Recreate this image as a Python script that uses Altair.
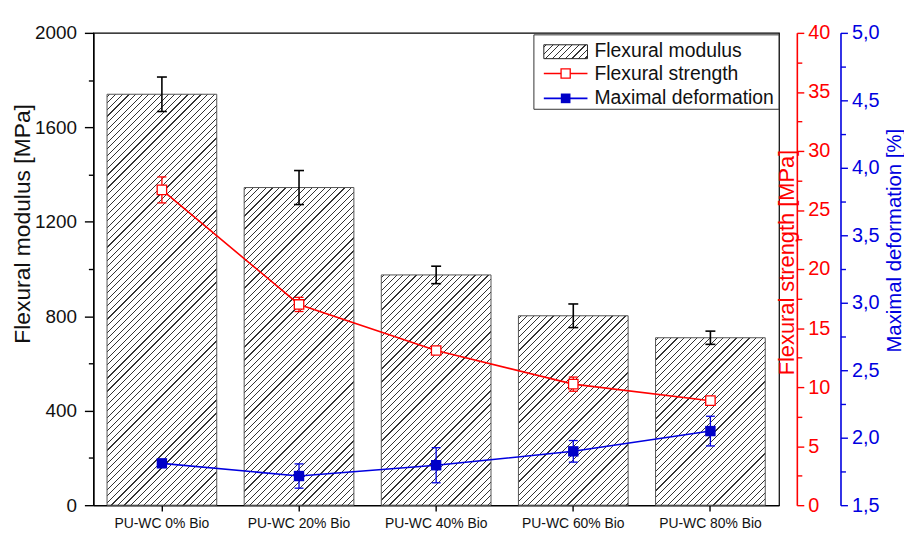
import altair as alt
import pandas as pd

categories = ["PU-WC 0% Bio", "PU-WC 20% Bio", "PU-WC 40% Bio", "PU-WC 60% Bio", "PU-WC 80% Bio"]
modulus = [1740, 1345, 975, 802, 709]
modulus_err = [73, 72, 37, 50, 28]
strength = [26.7, 17.0, 13.1, 10.25, 8.85]
strength_err = [1.1, 0.6, 0.2, 0.6, 0.3]
deformation = [1.81, 1.716, 1.796, 1.899, 2.049]
deformation_err = [0.0, 0.09, 0.13, 0.08, 0.11]

W, H = 691, 476
MOD_DOMAIN = [0, 2000]
STR_DOMAIN = [0, 40]
DEF_DOMAIN = [1.5, 5.0]
PAD_IN, PAD_OUT = 0.2, 0.1
FONT = "Liberation Sans"
RED = "#ff0000"
BLUE = "#0000e0"

df = pd.DataFrame({
    "cat": categories,
    "mod": modulus,
    "mod_lo": [m - e for m, e in zip(modulus, modulus_err)],
    "mod_hi": [m + e for m, e in zip(modulus, modulus_err)],
    "str": strength,
    "str_lo": [m - e for m, e in zip(strength, strength_err)],
    "str_hi": [m + e for m, e in zip(strength, strength_err)],
    "def": deformation,
    "def_lo": [m - e for m, e in zip(deformation, deformation_err)],
    "def_hi": [m + e for m, e in zip(deformation, deformation_err)],
})


def hatch(w, h, period=6.6, line=1.15, bg="#ffffff", fg="#333333"):
    L = w + h
    c = L / (w * w + h * h)
    stops = [{"offset": 0, "color": bg}]
    k = 0
    while True:
        a = (k * period + 2.0) / L
        if a >= 1:
            break
        b = min((k * period + 2.0 + line) / L, 1)
        stops += [{"offset": a, "color": bg}, {"offset": a, "color": fg},
                  {"offset": b, "color": fg}, {"offset": b, "color": bg}]
        k += 1
    stops.append({"offset": 1, "color": bg})
    return {"gradient": "linear", "x1": 0, "y1": 0, "x2": w * c, "y2": h * c, "stops": stops}


step = W / (len(categories) - PAD_IN + 2 * PAD_OUT)
bw = step * (1 - PAD_IN)

x_axis = alt.Axis(title=None, labelAngle=0, labelFontSize=14, labelColor="#111", tickSize=6,
                  labelPadding=5, domainColor="black", tickColor="black")
x_enc = alt.X("cat:N", sort=categories,
              scale=alt.Scale(paddingInner=PAD_IN, paddingOuter=PAD_OUT), axis=x_axis)

mod_axis = alt.Axis(orient="left", title="Flexural modulus [MPa]",
                    values=list(range(0, 2001, 200)),
                    labelExpr="datum.value % 400 === 0 ? format(datum.value, 'd') : ''",
                    tickSize={"condition": {"test": "datum.value % 400 === 0", "value": 9}, "value": 5},
                    labelFontSize=19, labelPadding=8, labelColor="#111",
                    domainColor="black", tickColor="black",
                    titleFontSize=23, titleColor="#111", titleX=-71, titleY=192,
                    titleAlign="center", titleBaseline="middle", titleAngle=270)
mod_scale = alt.Scale(domain=MOD_DOMAIN, nice=False, zero=False)

str_axis = alt.Axis(orient="right", offset=18, title="Flexural strength [MPa]",
                    values=[i * 2.5 for i in range(17)],
                    labelExpr="datum.value % 5 === 0 ? datum.label : ''",
                    tickSize={"condition": {"test": "datum.value % 5 === 0", "value": 7}, "value": 5},
                    labelFontSize=20, labelPadding=4, labelColor=RED,
                    domainColor=RED, tickColor=RED,
                    titleFontSize=22, titleColor=RED, titleX=-10, titleY=231,
                    titleAlign="center", titleBaseline="middle", titleAngle=270)
str_scale = alt.Scale(domain=STR_DOMAIN, nice=False, zero=False)

def_axis = alt.Axis(orient="right", offset=62, title="Maximal deformation [%]",
                    values=[1.5 + i * 0.25 for i in range(15)],
                    labelExpr="abs(round(datum.value*2) - datum.value*2) < 1e-6 ? replace(format(datum.value, '.1f'), '.', ',') : ''",
                    tickSize={"condition": {"test": "abs(round(datum.value*2) - datum.value*2) < 1e-6", "value": 7}, "value": 5},
                    labelFontSize=20, labelPadding=4, labelColor=BLUE,
                    domainColor=BLUE, tickColor=BLUE,
                    titleFontSize=20.5, titleColor=BLUE, titleX=54, titleY=209,
                    titleAlign="center", titleBaseline="middle", titleAngle=270)
def_scale = alt.Scale(domain=DEF_DOMAIN, nice=False, zero=False)

base = alt.Chart(df)

# --- Flexural modulus bars (hatched) ---
bar_layers = []
for c, m in zip(categories, modulus):
    h = (m - MOD_DOMAIN[0]) / (MOD_DOMAIN[1] - MOD_DOMAIN[0]) * H
    bar_layers.append(
        base.transform_filter(alt.datum.cat == c)
        .mark_bar(fill=hatch(bw, h), stroke="#555", strokeWidth=1, opacity=1)
        .encode(x=x_enc, y=alt.Y("mod:Q", scale=mod_scale, axis=mod_axis))
    )
mod_rule = base.mark_rule(color="black", strokeWidth=1.6).encode(
    x=x_enc, y=alt.Y("mod_lo:Q", scale=mod_scale, axis=mod_axis), y2="mod_hi:Q")
mod_cap_lo = base.mark_tick(orient="horizontal", size=10, thickness=1.6, color="black", opacity=1).encode(
    x=x_enc, y=alt.Y("mod_lo:Q", scale=mod_scale, axis=mod_axis))
mod_cap_hi = base.mark_tick(orient="horizontal", size=10, thickness=1.6, color="black", opacity=1).encode(
    x=x_enc, y=alt.Y("mod_hi:Q", scale=mod_scale, axis=mod_axis))
mod_layer = alt.layer(*bar_layers, mod_rule, mod_cap_lo, mod_cap_hi)

# --- Flexural strength (red) ---
str_line = base.mark_line(color=RED, strokeWidth=1.6).encode(
    x=x_enc, y=alt.Y("str:Q", scale=str_scale, axis=str_axis))
str_rule = base.mark_rule(color=RED, strokeWidth=1.3).encode(
    x=x_enc, y=alt.Y("str_lo:Q", scale=str_scale, axis=str_axis), y2="str_hi:Q")
str_cap_lo = base.mark_tick(orient="horizontal", size=9, thickness=1.3, color=RED, opacity=1).encode(
    x=x_enc, y=alt.Y("str_lo:Q", scale=str_scale, axis=str_axis))
str_cap_hi = base.mark_tick(orient="horizontal", size=9, thickness=1.3, color=RED, opacity=1).encode(
    x=x_enc, y=alt.Y("str_hi:Q", scale=str_scale, axis=str_axis))
str_pts = base.mark_square(size=90, fill="white", stroke=RED, strokeWidth=1.3, opacity=1).encode(
    x=x_enc, y=alt.Y("str:Q", scale=str_scale, axis=str_axis))
str_layer = alt.layer(str_line, str_rule, str_cap_lo, str_cap_hi, str_pts)

# --- Maximal deformation (blue) ---
def_line = base.mark_line(color=BLUE, strokeWidth=1.6).encode(
    x=x_enc, y=alt.Y("def:Q", scale=def_scale, axis=def_axis))
def_rule = base.mark_rule(color=BLUE, strokeWidth=1.3).encode(
    x=x_enc, y=alt.Y("def_lo:Q", scale=def_scale, axis=def_axis), y2="def_hi:Q")
def_cap_lo = base.mark_tick(orient="horizontal", size=9, thickness=1.3, color=BLUE, opacity=1).encode(
    x=x_enc, y=alt.Y("def_lo:Q", scale=def_scale, axis=def_axis))
def_cap_hi = base.mark_tick(orient="horizontal", size=9, thickness=1.3, color=BLUE, opacity=1).encode(
    x=x_enc, y=alt.Y("def_hi:Q", scale=def_scale, axis=def_axis))
def_pts = base.mark_square(size=110, color="#0000c8", opacity=1).encode(
    x=x_enc, y=alt.Y("def:Q", scale=def_scale, axis=def_axis))
def_layer = alt.layer(def_line, def_rule, def_cap_lo, def_cap_hi, def_pts)

# --- Legend (drawn by hand, top-right corner) ---
one = alt.Data(values=[{"k": 0}])
lg_box = alt.Chart(one).mark_rect(fill="white", stroke="#333", strokeWidth=1).encode(
    x=alt.value(444), x2=alt.value(691), y=alt.value(2), y2=alt.value(77))
lg_swatch = alt.Chart(one).mark_rect(fill=hatch(44, 14), stroke="#222", strokeWidth=1).encode(
    x=alt.value(454), x2=alt.value(498), y=alt.value(12), y2=alt.value(26))
lg_red_line = alt.Chart(one).mark_rule(color=RED, strokeWidth=1.6).encode(
    x=alt.value(454), x2=alt.value(498), y=alt.value(41))
lg_red_pt = alt.Chart(one).mark_square(size=85, fill="white", stroke=RED, strokeWidth=1.3, opacity=1).encode(
    x=alt.value(476), y=alt.value(41))
lg_blue_line = alt.Chart(one).mark_rule(color=BLUE, strokeWidth=1.6).encode(
    x=alt.value(454), x2=alt.value(498), y=alt.value(66))
lg_blue_pt = alt.Chart(one).mark_square(size=95, color="#0000c8", opacity=1).encode(
    x=alt.value(476), y=alt.value(66))
legend_labels = ["Flexural modulus", "Flexural strength", "Maximal deformation"]
lg_texts = [
    alt.Chart(one).mark_text(text=t, align="left", baseline="alphabetic", fontSize=19.5,
                             font=FONT, color="#111").encode(x=alt.value(505), y=alt.value(yy))
    for t, yy in zip(legend_labels, [24, 48, 72])
]
legend_layer = alt.layer(lg_box, lg_swatch, lg_red_line, lg_red_pt, lg_blue_line, lg_blue_pt, *lg_texts)

chart = (
    alt.layer(mod_layer, str_layer, def_layer, legend_layer)
    .resolve_scale(y="independent")
    .properties(width=W, height=H, autosize=alt.AutoSizeParams(type="none"),
                padding={"left": 86, "top": 23, "right": 126, "bottom": 28},
                background="white")
    .configure_view(stroke="black", strokeWidth=1.2)
    .configure_axis(grid=False, labelFont=FONT, titleFont=FONT, titleFontWeight="normal",
                    domainWidth=1.6, tickWidth=1.4)
)

chart.save("out.html", embed_options={"renderer": "svg", "actions": False})
